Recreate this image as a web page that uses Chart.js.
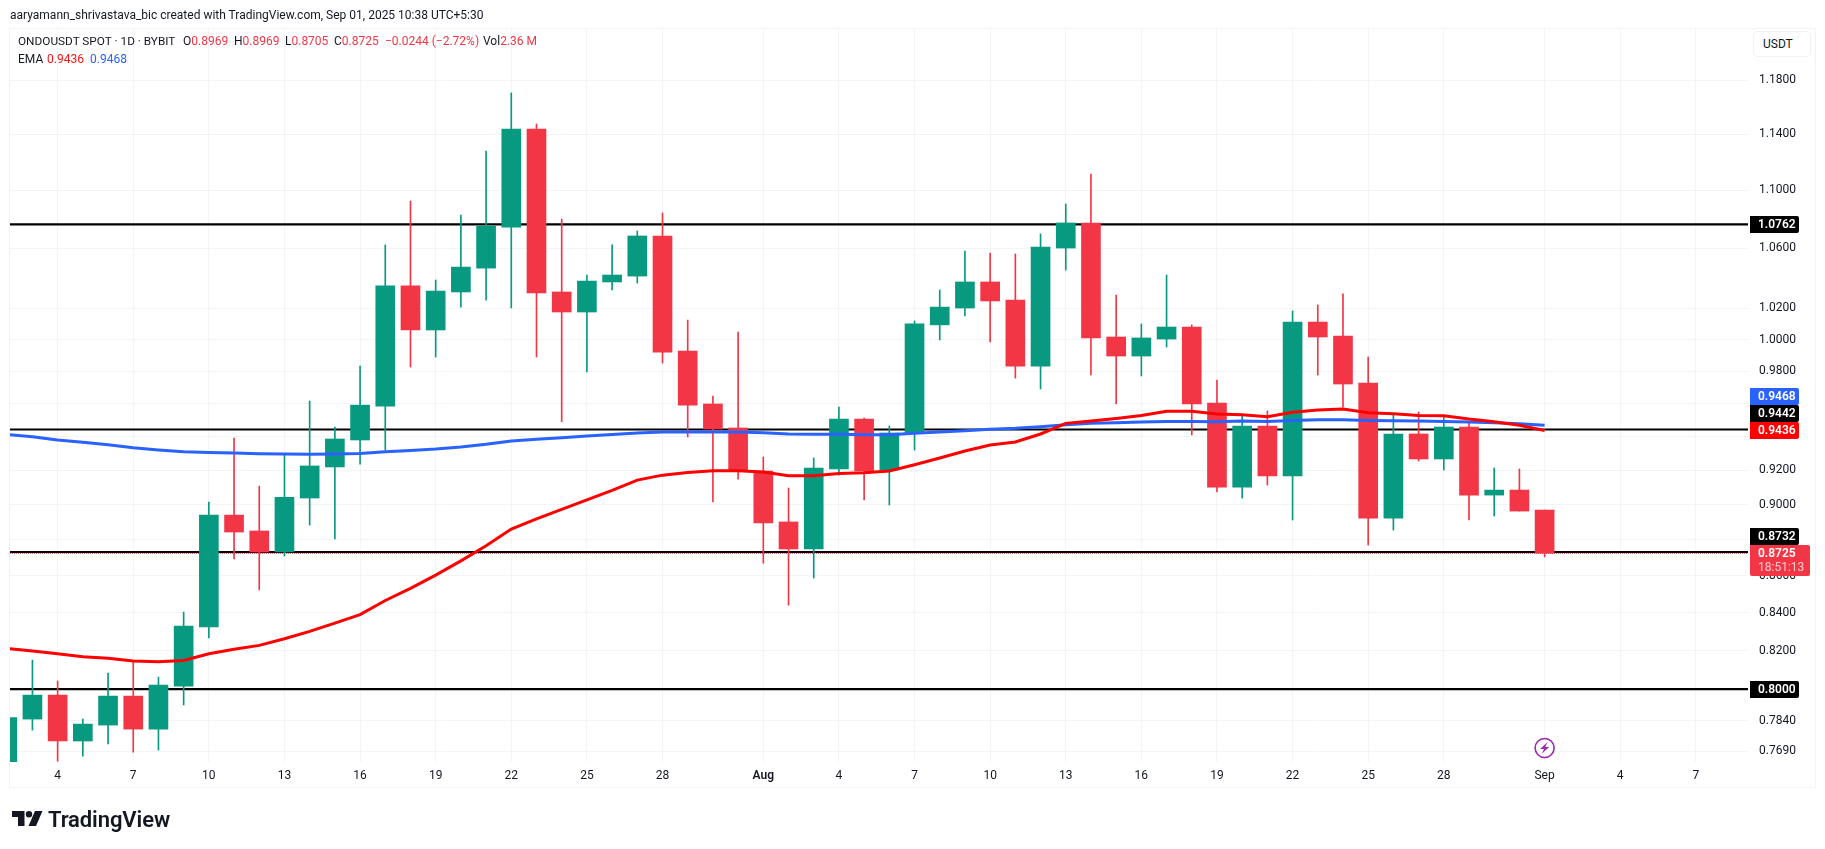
<!DOCTYPE html>
<html>
<head>
<meta charset="utf-8">
<title>ONDOUSDT</title>
<script src="https://cdn.jsdelivr.net/npm/chart.js@4/dist/chart.umd.min.js"></script>
<style>
  html, body { margin: 0; padding: 0; background: #fff; }
  body { width: 1825px; height: 849px; overflow: hidden; position: relative; font-family: Roboto, sans-serif; color: #131722; }
  canvas { position: absolute; left: 0; top: 0; }
  .frame { position: absolute; left: 9px; top: 28px; width: 1807px; height: 760px; border: 1px solid #f3f3f3; box-sizing: border-box; pointer-events: none; }
  .txt { position: absolute; white-space: pre; font-size: 12px; line-height: 16px; }
  .up { color: #F23645; }
  .usdt { position: absolute; left: 1753px; top: 31px; width: 58px; height: 26px; box-sizing: border-box; border: 1px solid #f2f2f2; border-radius: 4px; background: #fff; font-size: 12px; line-height: 25px; padding-left: 9px; }
  .logo { position: absolute; left: 12px; top: 811px; }
  .brand { position: absolute; left: 48px; top: 806px; font-size: 22px; line-height: 28px; font-weight: 600; letter-spacing: -0.1px; color: #131722; }
</style>
</head>
<body>
<canvas id="chart" width="1825" height="849"></canvas>
<div class="frame"></div>
<div class="txt" style="left:10px;top:7px">aaryamann_shrivastava_bic created with TradingView.com, Sep 01, 2025 10:38 UTC+5:30</div>
<div class="txt" style="left:18px;top:33px;font-size:11.8px">ONDOUSDT SPOT · 1D · BYBIT</div>
<div class="txt" style="left:183px;top:33px">O<span class="up">0.8969</span></div>
<div class="txt" style="left:234px;top:33px">H<span class="up">0.8969</span></div>
<div class="txt" style="left:285px;top:33px">L<span class="up">0.8705</span></div>
<div class="txt" style="left:334px;top:33px">C<span class="up">0.8725</span></div>
<div class="txt up" style="left:385px;top:33px">−0.0244 (−2.72%)</div>
<div class="txt" style="left:483px;top:33px">Vol<span class="up">2.36 M</span></div>
<div class="txt" style="left:18px;top:51px">EMA</div>
<div class="txt" style="left:47px;top:51px;color:#FF1515">0.9436</div>
<div class="txt" style="left:90px;top:51px;color:#2962FF">0.9468</div>
<div class="usdt">USDT</div>
<svg class="logo" width="31" height="16" viewBox="0 0 31 16"><path d="M0 0H12.5V15H6V6H0Z" fill="#131722"/><circle cx="17" cy="3.2" r="3.2" fill="#131722"/><path d="M23 0H30.5L24 15H16.5Z" fill="#131722"/></svg>
<div class="brand">TradingView</div>

<script>
// days counted from Jul 4, first candle is Jul 2
const days = [-2,-1,0,1,2,3,4,5,6,7,8,9,10,11,12,13,14,15,16,17,18,19,20,21,22,23,24,25,26,27,28,29,30,31,32,33,34,35,36,37,38,39,40,41,42,43,44,45,46,47,48,49,50,51,52,53,54,55,56,57,58,59];

const opens = [0.7600,0.7849,0.7970,0.7740,0.7819,0.7965,0.7799,0.8016,0.8324,0.8940,0.8850,0.8732,0.9038,0.9219,0.9379,0.9584,1.0348,1.0061,1.0308,1.0466,1.0744,1.1437,1.0308,1.0177,1.0374,1.0413,1.0683,0.9927,0.9597,0.9451,0.9195,0.8901,0.8749,0.9207,0.9505,0.9201,0.9421,1.0094,1.0203,1.0374,1.0255,0.9832,1.0601,1.0772,1.0016,0.9895,1.0003,1.0080,0.9603,0.9101,0.9463,0.9166,1.0112,1.0022,0.9726,0.8923,0.9415,0.9266,0.9457,0.9055,0.9084,0.8969];
const closes = [0.7856,0.7970,0.7740,0.7824,0.7965,0.7799,0.8021,0.8329,0.8940,0.8844,0.8732,0.9042,0.9225,0.9385,0.9590,1.0348,1.0061,1.0314,1.0473,1.0751,1.1437,1.0301,1.0177,1.0380,1.0420,1.0683,0.9920,0.9590,0.9445,0.9201,0.8895,0.8749,0.9213,0.9505,0.9195,0.9421,1.0100,1.0209,1.0374,1.0249,0.9832,1.0608,1.0772,1.0010,0.9895,1.0010,1.0080,0.9597,0.9101,0.9463,0.9166,1.0112,1.0016,0.9720,0.8923,0.9415,0.9266,0.9457,0.9055,0.9084,0.8963,0.8725];
const highs = [0.7860,0.8150,0.8042,0.7849,0.8083,0.8145,0.8062,0.8404,0.9015,0.9391,0.9107,0.9290,0.9615,0.9457,0.9832,1.0622,1.0924,1.0387,1.0827,1.1278,1.1704,1.1474,1.0799,1.0420,1.0622,1.0717,1.0841,1.0125,0.9646,1.0048,0.9278,0.9096,0.9272,0.9578,0.9511,0.9463,1.0119,1.0321,1.0581,1.0567,1.0561,1.0697,1.0903,1.1114,1.0288,1.0100,1.0420,1.0094,0.9745,0.9530,0.9554,1.0184,1.0223,1.0295,0.9889,0.9530,0.9548,0.9517,0.9487,0.9213,0.9207,0.8969];
const lows = [0.7550,0.7794,0.7641,0.7666,0.7725,0.7685,0.7695,0.7920,0.8266,0.8693,0.8523,0.8710,0.8883,0.8805,0.9236,0.9319,0.9826,0.9889,1.0209,1.0255,1.0203,0.9889,0.9489,0.9795,1.0321,1.0367,0.9851,0.9397,0.9015,0.9148,0.8670,0.8441,0.8588,0.9171,0.9027,0.8998,0.9319,0.9997,1.0151,0.9984,0.9757,0.9689,1.0453,0.9776,0.9597,0.9770,0.9952,0.9409,0.9073,0.9038,0.9113,0.8912,0.9776,0.9578,0.8771,0.8855,0.9254,0.9201,0.8912,0.8935,0.8963,0.8705];

const emaFast = [0.8210,0.8198,0.8183,0.8167,0.8160,0.8146,0.8141,0.8148,0.8183,0.8207,0.8227,0.8262,0.8301,0.8345,0.8390,0.8466,0.8532,0.8604,0.8683,0.8767,0.8861,0.8919,0.8973,0.9027,0.9082,0.9142,0.9171,0.9187,0.9197,0.9197,0.9189,0.9167,0.9167,0.9181,0.9185,0.9195,0.9232,0.9272,0.9313,0.9349,0.9367,0.9415,0.9479,0.9493,0.9509,0.9527,0.9552,0.9552,0.9536,0.9531,0.9519,0.9546,0.9560,0.9566,0.9544,0.9537,0.9527,0.9525,0.9505,0.9489,0.9467,0.9436];
const emaSlow = [0.9412,0.9399,0.9379,0.9365,0.9350,0.9332,0.9319,0.9309,0.9305,0.9301,0.9297,0.9295,0.9294,0.9295,0.9299,0.9309,0.9317,0.9325,0.9337,0.9353,0.9373,0.9383,0.9393,0.9403,0.9412,0.9421,0.9427,0.9427,0.9427,0.9427,0.9423,0.9415,0.9413,0.9413,0.9411,0.9411,0.9419,0.9427,0.9435,0.9443,0.9449,0.9459,0.9471,0.9479,0.9483,0.9487,0.9491,0.9491,0.9489,0.9493,0.9491,0.9497,0.9501,0.9501,0.9497,0.9495,0.9493,0.9491,0.9487,0.9483,0.9477,0.9468];

const levels = [1.0762, 0.9442, 0.8732, 0.8000];
const lastPrice = 0.8725;

const xTickDays = [0,3,6,9,12,15,18,21,24,28,31,34,37,40,43,46,49,52,55,59,62,65];
const xTickLabels = ['4','7','10','13','16','19','22','25','28','Aug','4','7','10','13','16','19','22','25','28','Sep','4','7'];
const yTickValues = [1.18,1.14,1.10,1.06,1.02,1.00,0.98,0.96,0.94,0.92,0.90,0.88,0.86,0.84,0.82,0.80,0.784,0.769];

const GREEN = '#089981', RED = '#F23645';
const AXIS_FONT = 'Roboto';
const xMin = -1.89, xMax = 67.07;

const candleColor = ctx => closes[ctx.dataIndex] >= opens[ctx.dataIndex] ? GREEN : RED;

const levelSets = levels.map(v => ({
  type: 'line',
  data: [{x: xMin, y: v}, {x: xMax, y: v}],
  borderColor: '#000',
  borderWidth: 2.2,
  pointRadius: 0,
  order: 5
}));

// tags on the price axis, bottom one first, they push each other upward
const priceTags = [
  {value: 0.8000, text: '0.8000', bg: '#000'},
  {value: lastPrice, text: '0.8725', sub: '18:51:13', bg: RED},
  {value: 0.8732, text: '0.8732', bg: '#000'},
  {value: 0.9436, text: '0.9436', bg: '#FF0000'},
  {value: 0.9442, text: '0.9442', bg: '#000'},
  {value: 0.9468, text: '0.9468', bg: '#2962FF'},
  {value: 1.0762, text: '1.0762', bg: '#000'}
];

const overlay = {
  id: 'overlay',
  afterDraw(chart) {
    const c = chart.ctx, y = chart.scales.y, x = chart.scales.x, area = chart.chartArea;
    const left = area.right + 2;
    let limit = Infinity;
    c.save();
    c.textBaseline = 'middle';
    priceTags.forEach(t => {
      const h = 17;
      let top = Math.round(y.getPixelForValue(t.value) - h / 2);
      if (top + h > limit) top = limit - h;
      limit = top;
      const w = t.sub ? 60 : 49;
      const total = t.sub ? 31 : h;
      c.fillStyle = t.bg;
      c.beginPath();
      c.roundRect(left, top, w, total, t.sub ? [0, 2, 2, 2] : [0, 2, 2, 0]);
      c.fill();
      c.font = '600 12px ' + AXIS_FONT;
      c.fillStyle = '#fff';
      c.fillText(t.text, left + 8, top + h / 2 + 0.5);
      if (t.sub) {
        c.font = '12px ' + AXIS_FONT;
        c.fillStyle = '#fbc9ce';
        c.fillText(t.sub, left + 8, top + 23);
      }
    });
    // marker above Sep 1
    const mx = x.getPixelForValue(59), my = 748;
    c.strokeStyle = '#9C27B0';
    c.lineWidth = 1.6;
    c.fillStyle = '#fff';
    c.beginPath();
    c.arc(mx, my, 9.5, 0, Math.PI * 2);
    c.fill();
    c.stroke();
    c.fillStyle = '#9C27B0';
    c.beginPath();
    c.moveTo(mx + 3, my - 6);
    c.lineTo(mx - 4.5, my + 1);
    c.lineTo(mx - 0.5, my + 1);
    c.lineTo(mx - 3, my + 6);
    c.lineTo(mx + 4.5, my - 1);
    c.lineTo(mx + 0.5, my - 1);
    c.closePath();
    c.fill();
    c.restore();
  }
};

new Chart(document.getElementById('chart'), {
  type: 'bar',
  data: {
    datasets: [
      ...levelSets,
      {
        type: 'line',
        data: [{x: xMin, y: lastPrice}, {x: xMax, y: lastPrice}],
        borderColor: RED,
        borderWidth: 1,
        borderDash: [1, 1],
        pointRadius: 0,
        order: 6
      },
      {
        data: days.map((d, i) => ({x: d, y: [lows[i], highs[i]]})),
        backgroundColor: candleColor,
        barThickness: 1,
        grouped: false,
        order: 3
      },
      {
        data: days.map((d, i) => ({x: d, y: [opens[i], closes[i]]})),
        backgroundColor: candleColor,
        barThickness: 19,
        grouped: false,
        order: 2
      },
      {
        type: 'line',
        data: days.map((d, i) => ({x: d, y: emaSlow[i]})),
        borderColor: '#2962FF',
        borderWidth: 3,
        pointRadius: 0,
        order: 1
      },
      {
        type: 'line',
        data: days.map((d, i) => ({x: d, y: emaFast[i]})),
        borderColor: '#FF0000',
        borderWidth: 3,
        pointRadius: 0,
        order: 0
      }
    ]
  },
  options: {
    responsive: false,
    animation: false,
    devicePixelRatio: 1,
    layout: {padding: {left: 10, top: 28, right: 0, bottom: 0}},
    plugins: {legend: {display: false}, tooltip: {enabled: false}},
    scales: {
      x: {
        type: 'linear',
        offset: false,
        min: xMin,
        max: xMax,
        grid: {color: '#f3f4f6', drawTicks: false, offset: false},
        border: {display: false},
        afterBuildTicks: s => { s.ticks = xTickDays.map(v => ({value: v})); },
        afterFit: s => { s.height = 87; },
        ticks: {
          autoSkip: false,
          maxRotation: 0,
          padding: 7,
          color: '#131722',
          font: c => ({family: AXIS_FONT, size: 12, weight: xTickLabels[c.index] === 'Aug' ? '600' : '400'}),
          callback: (v, i) => xTickLabels[i]
        }
      },
      y: {
        type: 'logarithmic',
        position: 'right',
        min: 0.7637,
        max: 1.2199,
        grid: {color: '#f3f4f6', drawTicks: false},
        border: {display: false},
        afterBuildTicks: s => { s.ticks = yTickValues.map(v => ({value: v})); },
        afterFit: s => { s.width = 77; },
        ticks: {
          autoSkip: false,
          padding: 11,
          color: '#131722',
          font: {family: AXIS_FONT, size: 12},
          callback: v => v.toFixed(4)
        }
      }
    }
  },
  plugins: [overlay]
});
</script>
</body>
</html>
